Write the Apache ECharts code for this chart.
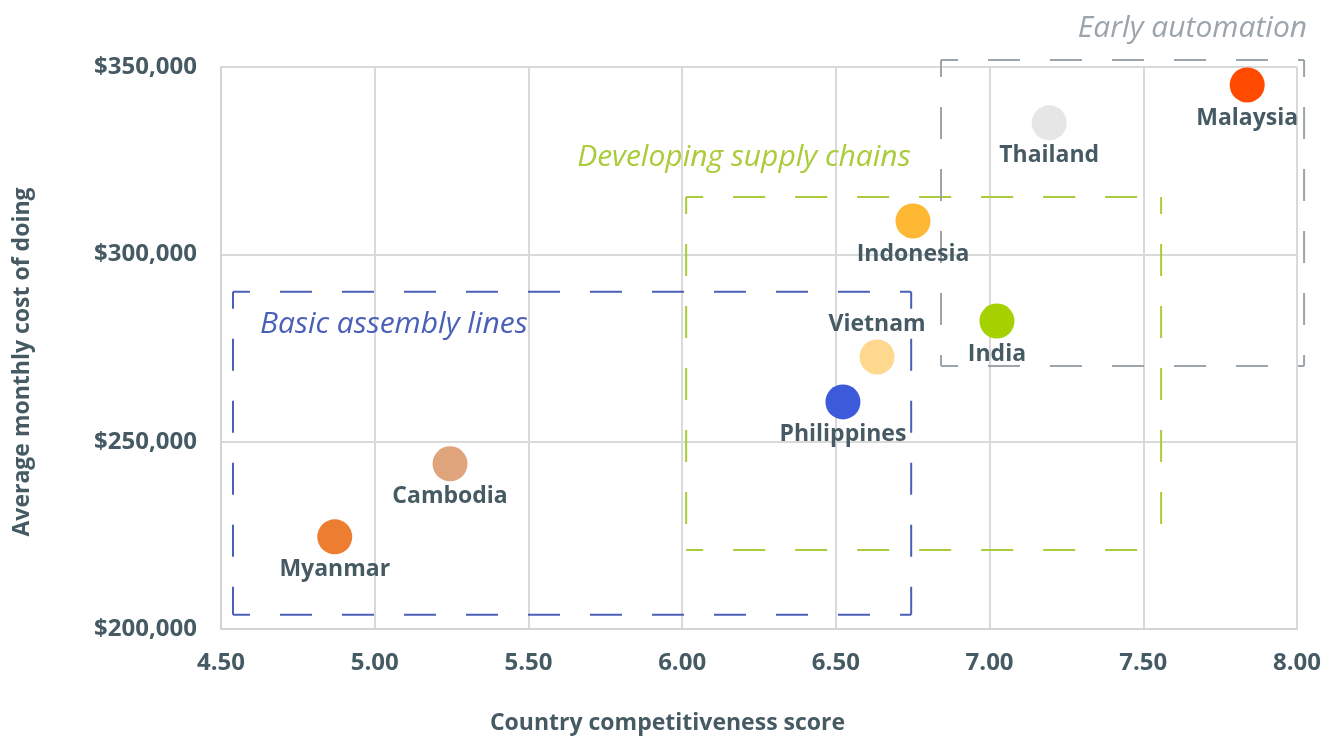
<!DOCTYPE html>
<html>
<head>
<meta charset="utf-8">
<script src="https://cdn.jsdelivr.net/npm/echarts@6/dist/echarts.min.js"></script>
<style>
html,body{margin:0;padding:0;background:#fff;}
#main{width:1335px;height:737px;}
</style>
</head>
<body>
<div id="main"></div>
<script>
// ---- data ----
const countries = ['Myanmar','Cambodia','Philippines','Vietnam','Indonesia','India','Thailand','Malaysia'];
const scores    = [4.87, 5.245, 6.523, 6.634, 6.751, 7.024, 7.194, 7.838];
const costs     = [224600, 244100, 260600, 272600, 308900, 282200, 335100, 345200];
const xTicks = [4.5, 5.0, 5.5, 6.0, 6.5, 7.0, 7.5, 8.0];
const yTicks = [200000, 250000, 300000, 350000];

const boxNames = ['Basic assembly lines', 'Developing supply chains', 'Early automation'];
const boxX1 = [4.539, 6.013, 6.842];
const boxY1 = [203800, 221100, 270200];
const boxX2 = [6.745, 7.558, 8.023];
const boxY2 = [290000, 315300, 351900];

// ---- styles ----
const dotColors = ['#ED7D31','#E0A47C','#3D5ADB','#FFD88F','#FFB833','#A5D100','#E6E6E6','#FF4A00'];
const boxColors = ['#4A5FB8','#A9CC3A','#9BA5AB'];
const textColor = '#465A64';
const FONT = '"Open Sans", sans-serif';

const scatterData = countries.map((c, i) => ({
  name: c,
  value: [scores[i], costs[i]],
  itemStyle: { color: dotColors[i], opacity: 1 },
  label: { position: c === 'Vietnam' ? 'top' : 'bottom' }
}));

const boxData = boxNames.map((n, i) => ({ name: n, value: [boxX1[i], boxY1[i], boxX2[i], boxY2[i], i] }));

function renderBox(params, api) {
  const i = api.value(4);
  const a = api.coord([api.value(0), api.value(3)]); // top-left
  const b = api.coord([api.value(2), api.value(1)]); // bottom-right
  const x1 = a[0], y1 = a[1], x2 = b[0], y2 = b[1];
  const col = boxColors[i];
  const ls = { stroke: col, lineWidth: 2, lineDash: [32, 30], lineDashOffset: 15, fill: null };
  const lines = [
    [x1, y1, x2, y1], [x2, y1, x2, y2], [x1, y2, x2, y2], [x1, y1, x1, y2]
  ].map(s => ({ type: 'line', shape: { x1: s[0], y1: s[1], x2: s[2], y2: s[3] }, style: ls }));
  let tx, ty, align;
  if (i === 0) { tx = x1 + 27; ty = y1 + 33; align = 'left'; }
  else if (i === 1) { tx = x1 - 109; ty = y1 - 40; align = 'left'; }
  else { tx = x2 + 3; ty = y1 - 31; align = 'right'; }
  lines.push({
    type: 'text',
    style: {
      x: tx, y: ty, text: boxNames[i], fill: col, align: align, verticalAlign: 'middle',
      font: 'italic 400 30px ' + FONT
    }
  });
  return { type: 'group', children: lines };
}

const chart = echarts.init(document.getElementById('main'));
chart.setOption({
  animation: false,
  backgroundColor: '#fff',
  grid: { left: 221, right: 38, top: 67, bottom: 108 },
  title: {
    text: 'Country competitiveness score',
    left: 'center', top: 707,
    textStyle: { color: textColor, fontFamily: FONT, fontWeight: 'bold', fontSize: 23 }
  },
  xAxis: {
    type: 'value', min: 4.5, max: 8.0, interval: 0.5,
    axisLine: { show: true, lineStyle: { color: '#D4D4D4', width: 2 } },
    axisTick: { show: false },
    splitLine: { show: true, lineStyle: { color: '#D9D9D9', width: 2 } },
    axisLabel: {
      color: textColor, fontFamily: FONT, fontWeight: 'bold', fontSize: 24, margin: 22,
      formatter: v => v.toFixed(2)
    }
  },
  yAxis: {
    type: 'value', min: 200000, max: 350000, interval: 50000,
    name: 'Average monthly cost of doing',
    nameLocation: 'middle', nameGap: 187,
    nameTextStyle: { color: textColor, fontFamily: FONT, fontWeight: 'bold', fontSize: 23, padding: [0, 28, 0, 0] },
    axisLine: { show: true, lineStyle: { color: '#D4D4D4', width: 2 } },
    axisTick: { show: false },
    splitLine: { show: true, lineStyle: { color: '#D9D9D9', width: 2 } },
    axisLabel: {
      color: textColor, fontFamily: FONT, fontWeight: 'bold', fontSize: 24, margin: 24,
      formatter: v => '$' + v.toLocaleString('en-US')
    }
  },
  series: [
    {
      type: 'custom', renderItem: renderBox, data: boxData, clip: false, z: 3,
      encode: { x: [0, 2], y: [1, 3] }, silent: true
    },
    {
      type: 'scatter', data: scatterData, symbolSize: 35, z: 5, clip: false,
      label: {
        show: true, formatter: '{b}', distance: 4, opacity: 1,
        color: textColor, fontFamily: FONT, fontWeight: 'bold', fontSize: 23
      }
    }
  ]
});
</script>
</body>
</html>
